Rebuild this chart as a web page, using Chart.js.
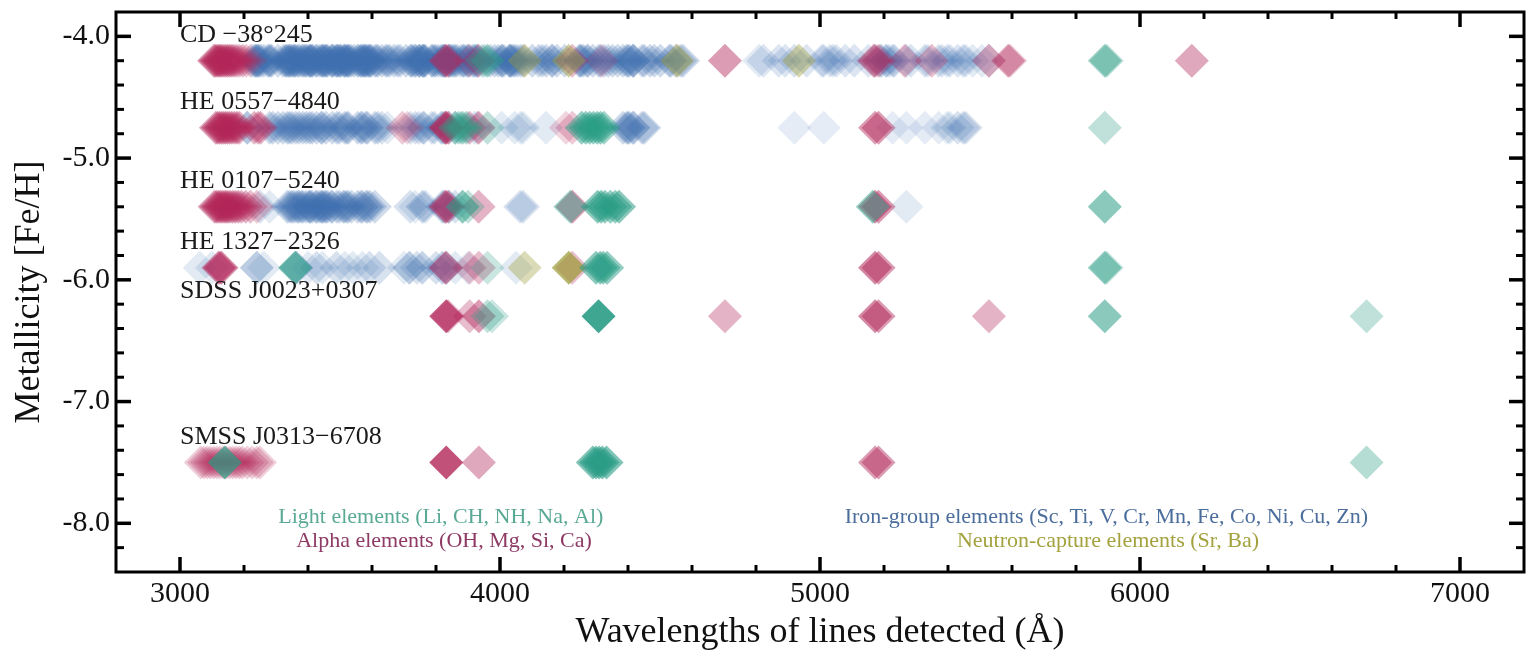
<!DOCTYPE html>
<html>
<head>
<meta charset="utf-8">
<script src="https://cdn.jsdelivr.net/npm/chart.js@4.4.0/dist/chart.umd.min.js"></script>
<style>
  html, body { margin: 0; padding: 0; background: #fff; }
  #wrap { width: 1526px; height: 657px; }
</style>
</head>
<body>
<div id="wrap"><canvas id="chart" width="1526" height="657"></canvas></div>
<script>
// stars, top to bottom
const stars = ['CD \u221238\u00b0245', 'HE 0557\u22124840', 'HE 0107\u22125240', 'HE 1327\u22122326', 'SDSS J0023+0307', 'SMSS J0313\u22126708'];
const starFeH = [-4.2, -4.75, -5.4, -5.9, -6.3, -7.5];

// detected lines per star: [wavelength (A), weight]
const lightCD = [[3944, .3], [3961, .45], [5890, .45], [5896, .3]];
const lightHE0557 = [[3860, .4], [3871, .35], [3883, .4], [3894, .35], [3961, .3], [4255, .5], [4268, .5], [4280, .5], [4292, .5], [4304, .5], [4314, .5], [4325, .45], [5890, .3]];
const lightHE0107 = [[3883, .55], [3900, .3], [4220, .45], [4305, .55], [4316, .55], [4328, .5], [4345, .5], [4360, .5], [4372, .55], [5165, .5], [5890, .55]];
const lightHE1327 = [[3360, .65], [3961, .25], [4300, .55], [4313, .55], [4323, .5], [4335, .5], [5890, .5], [5896, .25]];
const lightSDSS = [[3961, .3], [3975, .25], [4308, .9], [5890, .55], [6708, .3]];
const lightSMSS = [[3140, .7], [4290, .6], [4300, .6], [4310, .6], [4320, .6], [4333, .6], [6708, .35]];

const alphaCD = [[3106, .4], [3111, .4], [3116, .4], [3121, .4], [3126, .4], [3131, .4], [3137, .4], [3143, .4], [3149, .4], [3155, .4], [3162, .4], [3169, .35], [3177, .35], [3186, .3], [3196, .3], [3207, .25], [3220, .2],
  [3829, .3], [3832, .3], [3838, .3], [3905, .2], [3933, .3], [4226, .3], [4318, .2], [4703, .45], [5167, .3], [5172, .35], [5183, .35], [5265, .3], [5349, .3], [5528, .35], [5588, .4], [5594, .25], [6162, .4]];
const alphaHE0557 = [[3112, .4], [3118, .4], [3124, .4], [3130, .4], [3136, .4], [3142, .4], [3148, .4], [3155, .4], [3162, .4], [3170, .4], [3178, .4], [3186, .35], [3232, .35], [3244, .35], [3252, .35],
  [3695, .25], [3710, .2], [3829, .45], [3832, .45], [3838, .4], [3905, .3], [3933, .4], [4206, .2], [4226, .25], [5172, .45], [5183, .45]];
const alphaHE0107 = [[3108, .4], [3114, .4], [3120, .4], [3126, .4], [3132, .4], [3138, .4], [3144, .4], [3150, .4], [3157, .4], [3165, .4], [3173, .4], [3182, .4], [3192, .35], [3205, .35], [3220, .3], [3240, .25],
  [3829, .35], [3832, .35], [3838, .3], [3933, .35], [4226, .45], [5172, .5], [5183, .45]];
const alphaHE1327 = [[3120, .45], [3125, .45], [3130, .45], [3829, .3], [3832, .3], [3905, .25], [3934, .3], [4226, .3], [5172, .55], [5183, .45]];
const alphaSDSS = [[3832, .75], [3838, .3], [3905, .3], [3934, .45], [4703, .35], [5172, .55], [5183, .45], [5528, .35]];
const alphaSMSS = [[3065, .22], [3075, .22], [3085, .22], [3095, .22], [3105, .22], [3115, .22], [3125, .22], [3135, .22], [3145, .22], [3155, .22], [3165, .22], [3175, .22], [3185, .22], [3195, .22], [3210, .22], [3225, .22], [3240, .22], [3250, .22],
  [3832, .8], [3934, .4], [5172, .45], [5183, .45]];

const ironCD = [[3226, .25], [3234, .25], [3236, .25], [3239, .25], [3242, .25], [3244, .25], [3248, .25], [3253, .25], [3262, .25], [3274, .25], [3279, .25], [3282, .25], [3287, .25], [3306, .25], [3322, .25], [3329, .25], [3332, .25], [3335, .25], [3340, .25], [3342, .25],
  [3344, .25], [3349, .25], [3354, .25], [3355, .25], [3360, .25], [3362, .25], [3369, .25], [3372, .25], [3380, .25], [3384, .25], [3388, .25], [3393, .25], [3395, .25], [3402, .25], [3405, .25], [3408, .25], [3409, .25], [3413, .25], [3414, .25], [3424, .25],
  [3427, .25], [3434, .25], [3441, .25], [3444, .25], [3446, .25], [3449, .25], [3453, .25], [3456, .25], [3458, .25], [3462, .25], [3473, .25], [3476, .25], [3477, .25], [3484, .25], [3490, .25], [3491, .25], [3493, .25], [3498, .25], [3501, .25], [3502, .25],
  [3510, .25], [3514, .25], [3515, .25], [3518, .25], [3521, .25], [3525, .25], [3526, .25], [3530, .25], [3536, .25], [3545, .25], [3555, .25], [3558, .25], [3565, .25], [3566, .25], [3570, .25], [3574, .25], [3576, .25], [3579, .25], [3581, .25], [3585, .25],
  [3590, .25], [3592, .25], [3594, .25], [3598, .25], [3609, .25], [3614, .25], [3619, .25], [3631, .25], [3643, .25], [3648, .25], [3655, .25], [3669, .25], [3680, .25], [3688, .25], [3706, .25], [3720, .25], [3723, .25], [3728, .25], [3735, .25], [3737, .25],
  [3746, .25], [3748, .25], [3750, .25], [3758, .25], [3759, .25], [3761, .25], [3764, .25], [3767, .25], [3787, .25], [3788, .25], [3795, .25], [3799, .25], [3807, .25], [3816, .25], [3820, .25], [3824, .25], [3826, .25], [3828, .25], [3840, .25], [3841, .25],
  [3846, .25], [3850, .25], [3856, .25], [3860, .25], [3866, .25], [3878, .25], [3886, .25], [3887, .25], [3896, .25], [3900, .25], [3903, .25], [3914, .25], [3920, .25], [3923, .25], [3928, .25], [3930, .25], [3952, .25], [3970, .25], [3983, .25], [3995, .25],
  [4005, .25], [4006, .25], [4012, .25], [4028, .25], [4031, .25], [4033, .25], [4035, .25], [4041, .25], [4046, .25], [4054, .25], [4064, .25], [4072, .25], [4101, .25], [4121, .25], [4132, .25], [4144, .25], [4162, .25], [4164, .25], [4178, .25], [4202, .25],
  [4247, .25], [4251, .25], [4254, .25], [4261, .25], [4272, .25], [4275, .25], [4290, .25], [4308, .25], [4314, .25], [4326, .25], [4338, .25], [4352, .25], [4368, .25], [4384, .25], [4395, .25], [4400, .25], [4404, .25], [4415, .25], [4416, .25], [4418, .25],
  [4444, .25], [4451, .25], [4469, .25], [4482, .25], [4501, .25], [4529, .25], [4534, .25], [4549, .25], [4564, .25], [4572, .25],
  [4810, .15], [4823, .18], [4871, .18], [4891, .18], [4920, .2], [4958, .18], [5006, .18], [5012, .18], [5031, .18], [5041, .18], [5051, .18], [5079, .18], [5107, .18], [5151, .18], [5172, .2], [5189, .2], [5192, .2], [5206, .2], [5208, .2], [5216, .18],
  [5227, .2], [5232, .2], [5270, .2], [5284, .18], [5328, .2], [5337, .18], [5371, .2], [5381, .18], [5397, .18], [5406, .18], [5430, .18], [5447, .18], [5455, .18], [5477, .15], [5506, .15], [5527, .15]];
const ironHE0557 = [[3210, .4], [3280, .25], [3290, .25], [3306, .25], [3322, .25], [3335, .25], [3342, .25], [3350, .25], [3362, .25], [3372, .25], [3384, .25], [3395, .25], [3405, .25], [3413, .25], [3427, .25], [3441, .25], [3444, .25], [3456, .25], [3476, .25], [3490, .25],
  [3498, .25], [3514, .25], [3521, .25], [3526, .25], [3555, .25], [3565, .25], [3570, .25], [3581, .25], [3586, .25], [3609, .25], [3618, .25], [3631, .2], [3648, .15], [3720, .2], [3735, .2], [3746, .2], [3759, .25], [3763, .2], [3787, .2], [3795, .2],
  [3816, .2], [3820, .25], [3826, .25], [3841, .2], [3860, .2], [3878, .15], [3900, .15], [3920, .15], [3928, .15], [4005, .15], [4046, .15], [4064, .15], [4072, .15], [4144, .15], [4384, .25], [4395, .25], [4400, .25], [4404, .25], [4415, .25], [4418, .25],
  [4444, .25], [4451, .25], [4920, .13], [5012, .13], [5227, .13], [5270, .13], [5328, .13], [5371, .13], [5397, .15], [5406, .15], [5430, .2], [5447, .2], [5455, .2]];
const ironHE0107 = [[3250, .2], [3280, .15], [3335, .25], [3342, .25], [3349, .25], [3354, .25], [3362, .25], [3369, .25], [3372, .25], [3380, .25], [3384, .25], [3393, .25], [3402, .25], [3405, .25], [3408, .25], [3413, .25], [3424, .25], [3427, .25], [3434, .25], [3441, .25],
  [3444, .25], [3446, .25], [3453, .25], [3456, .25], [3462, .25], [3473, .25], [3476, .25], [3490, .25], [3498, .25], [3510, .25], [3514, .25], [3521, .25], [3526, .25], [3536, .25], [3555, .25], [3565, .25], [3570, .25], [3581, .25], [3586, .25], [3594, .25],
  [3609, .25], [3720, .2], [3735, .15], [3758, .3], [3767, .2], [3820, .25], [3826, .3], [3841, .3], [3860, .2], [4063, .2], [4072, .2], [5270, .15]];
const ironHE1327 = [[3062, .15], [3100, .15], [3240, .35], [3262, .15], [3364, .35], [3400, .15], [3427, .2], [3445, .15], [3489, .2], [3515, .15], [3540, .15], [3570, .15], [3592, .2], [3623, .2], [3700, .15], [3717, .35], [3740, .2], [3757, .3], [3800, .2], [3820, .3],
  [3832, .3], [3860, .15], [3900, .15], [4050, .15]];
const ironSDSS = [];
const ironSMSS = [];

const ncapCD = [[4077, .4], [4215, .45], [4554, .45], [4934, .4]];
const ncapHE0557 = [];
const ncapHE0107 = [];
const ncapHE1327 = [[4077, .35], [4215, .7]];
const ncapSDSS = [];
const ncapSMSS = [];

const groupNames = ['Light elements (Li, CH, NH, Na, Al)', 'Neutron-capture elements (Sr, Ba)', 'Alpha elements (OH, Mg, Si, Ca)', 'Iron-group elements (Sc, Ti, V, Cr, Mn, Fe, Co, Ni, Cu, Zn)'];
const groupLines = [
  [lightCD, lightHE0557, lightHE0107, lightHE1327, lightSDSS, lightSMSS],
  [ncapCD, ncapHE0557, ncapHE0107, ncapHE1327, ncapSDSS, ncapSMSS],
  [alphaCD, alphaHE0557, alphaHE0107, alphaHE1327, alphaSDSS, alphaSMSS],
  [ironCD, ironHE0557, ironHE0107, ironHE1327, ironSDSS, ironSMSS]
];

const xTicksMajor = [3000, 4000, 5000, 6000, 7000];

// styling
const groupColors = [[42, 157, 133], [155, 152, 50], [178, 38, 88], [62, 112, 175]];
const captionColors = ['#5aa995', '#a3a23e', '#8e3a64', '#4a6d9c'];
// caption anchors [wavelength, FeH]
const captionAt = [[3815, -7.95], [5900, -8.15], [3825, -8.15], [5895, -7.95]];
const serif = '"Liberation Serif", "DejaVu Serif", serif';

const datasets = groupLines.map((perStar, g) => ({
  label: groupNames[g],
  data: perStar.flatMap((lines, s) => lines.map(l => ({ x: l[0], y: starFeH[s], a: l[1] }))),
  pointStyle: 'rectRot',
  pointRadius: 17,
  pointHoverRadius: 17,
  pointBorderWidth: 0,
  pointHoverBorderWidth: 0,
  pointBackgroundColor: c => {
    const a = c.raw ? c.raw.a : 1;
    const [r, gg, b] = groupColors[g];
    return 'rgba(' + r + ',' + gg + ',' + b + ',' + a + ')';
  },
  pointBorderColor: 'rgba(0,0,0,0)'
}));

const textPlugin = {
  id: 'texts',
  afterDatasetsDraw(chart) {
    const { ctx, scales: { x, y } } = chart;
    ctx.save();
    ctx.font = '26px ' + serif;
    ctx.fillStyle = '#1a1a1a';
    ctx.textAlign = 'left';
    ctx.textBaseline = 'middle';
    stars.forEach((s, i) => {
      ctx.fillText(s, x.getPixelForValue(3000), y.getPixelForValue(starFeH[i] + 0.21));
    });
    ctx.font = '22px ' + serif;
    ctx.textAlign = 'center';
    groupNames.forEach((n, g) => {
      ctx.fillStyle = captionColors[g];
      ctx.fillText(n, x.getPixelForValue(captionAt[g][0]), y.getPixelForValue(captionAt[g][1]));
    });
    ctx.restore();
  }
};

const framePlugin = {
  id: 'frame',
  afterDraw(chart) {
    const { ctx, chartArea: a, scales: { x, y } } = chart;
    const seg = (x1, y1, x2, y2) => { ctx.beginPath(); ctx.moveTo(x1, y1); ctx.lineTo(x2, y2); ctx.stroke(); };
    ctx.save();
    ctx.strokeStyle = '#000';
    x.ticks.forEach(t => {
      const px = x.getPixelForValue(t.value);
      if (px <= a.left + 1 || px >= a.right - 1) return;
      const major = xTicksMajor.includes(Math.round(t.value));
      const len = major ? 15 : 7;
      ctx.lineWidth = major ? 3.5 : 3;
      seg(px, a.bottom, px, a.bottom - len);
      seg(px, a.top, px, a.top + len);
    });
    y.ticks.forEach(t => {
      const py = y.getPixelForValue(t.value);
      if (py <= a.top + 1 || py >= a.bottom - 1) return;
      const major = Math.abs(t.value - Math.round(t.value)) < 1e-6;
      const len = major ? 15 : 8;
      ctx.lineWidth = major ? 3.5 : 3;
      seg(a.left, py, a.left + len, py);
      seg(a.right, py, a.right - len, py);
    });
    ctx.lineWidth = 3;
    ctx.strokeRect(a.left, a.top, a.right - a.left, a.bottom - a.top);
    ctx.restore();
  }
};

Chart.defaults.font.family = serif;
Chart.defaults.color = '#111';

new Chart(document.getElementById('chart'), {
  type: 'scatter',
  data: { datasets: datasets },
  options: {
    responsive: false,
    animation: false,
    devicePixelRatio: 1,
    layout: { autoPadding: false, padding: { top: 12, right: 2, left: 0, bottom: 0 } },
    plugins: { legend: { display: false }, tooltip: { enabled: false } },
    scales: {
      x: {
        type: 'linear',
        min: 2800,
        max: 7200,
        grid: { display: false, drawTicks: false },
        border: { display: false },
        ticks: {
          stepSize: 200,
          autoSkip: false,
          maxRotation: 0,
          padding: 4,
          font: { size: 30 },
          color: '#111',
          callback: v => xTicksMajor.includes(Math.round(v)) ? String(Math.round(v)) : ''
        },
        title: { display: true, text: 'Wavelengths of lines detected (\u00c5)', font: { size: 36 }, color: '#111', padding: { top: 0, bottom: 3 } },
        afterFit: s => { s.height = 85; s.paddingLeft = 0; s.paddingRight = 0; }
      },
      y: {
        type: 'linear',
        min: -8.4,
        max: -3.8,
        grid: { display: false, drawTicks: false },
        border: { display: false },
        ticks: {
          stepSize: 0.2,
          autoSkip: false,
          padding: 6,
          font: { size: 30 },
          color: '#111',
          callback: v => Math.abs(v - Math.round(v)) < 1e-6 ? v.toFixed(1) : ''
        },
        title: { display: true, text: 'Metallicity [Fe/H]', font: { size: 36 }, color: '#111', padding: { top: 8, bottom: 0 } },
        afterFit: s => { s.width = 116; s.paddingTop = 0; s.paddingBottom = 0; }
      }
    }
  },
  plugins: [textPlugin, framePlugin]
});
</script>
</body>
</html>
